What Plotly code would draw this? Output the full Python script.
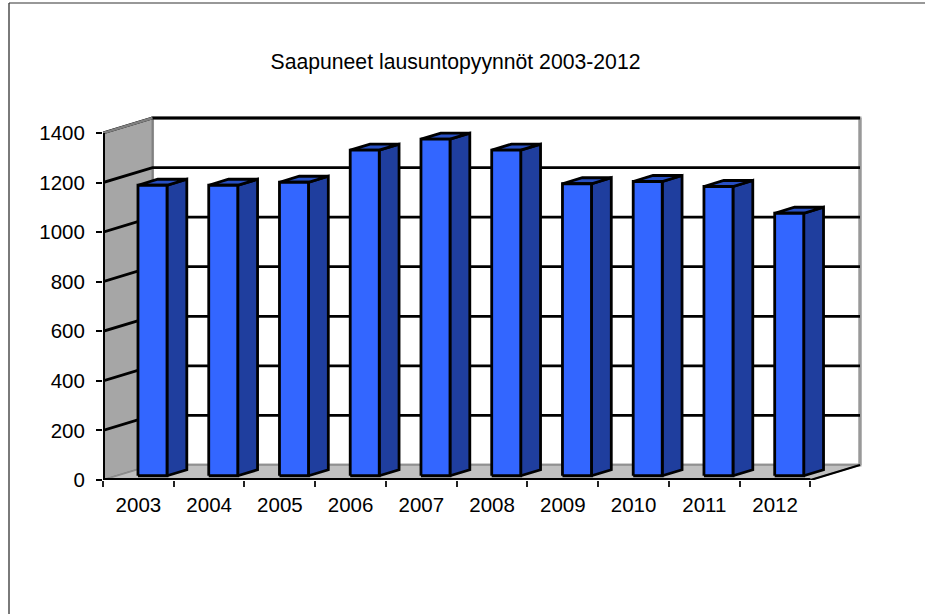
import plotly.graph_objects as go

years = ["2003", "2004", "2005", "2006", "2007", "2008", "2009", "2010", "2011", "2012"]
values = [1172, 1172, 1184, 1314, 1358, 1314, 1178, 1187, 1167, 1059]
y_ticks = [0, 200, 400, 600, 800, 1000, 1200, 1400]
title_text = "Saapuneet lausuntopyynnöt 2003-2012"

# Oblique projection of the depth axis, in axis units
PX_X = 70.7          # pixels per category
PX_Y = 347 / 1400    # pixels per value unit
DEPTH_X = 49.5 / PX_X
DEPTH_Y = 15 / PX_Y
BAR_W = 29 / PX_X
BAR_T0, BAR_T1 = 0.285, 0.685
PAD = 4              # pixels of room beyond the back wall so its edges are not clipped

n = len(years)
vmax = y_ticks[-1]
FONT = "Liberation Sans, Arial, sans-serif"
FRONT, SIDE, TOP = "#3366FF", "#1F3E9E", "#2850C4"
WALL, FLOOR = "#A6A6A6", "#C0C0C0"


def proj(x, v, t):
    return x + t * DEPTH_X, v + t * DEPTH_Y


def poly(pts, fill=None, line="black", width=2.8):
    xs = [p[0] for p in pts]
    ys = [p[1] for p in pts]
    return go.Scatter(
        x=xs, y=ys, mode="lines",
        fill="toself" if fill else None, fillcolor=fill,
        line=dict(color=line, width=width),
        hoverinfo="skip", showlegend=False, cliponaxis=False,
    )


fig = go.Figure()

# walls and floor
fig.add_trace(poly([proj(0, 0, 1), proj(n, 0, 1), proj(n, vmax, 1), proj(0, vmax, 1), proj(0, 0, 1)],
                   "white", "#A0A0A0", 3))
fig.add_trace(poly([proj(0, 0, 0), proj(0, 0, 1), proj(0, vmax, 1), proj(0, vmax, 0), proj(0, 0, 0)],
                   WALL, "#808080", 2))
fig.add_trace(poly([proj(0, 0, 0), proj(n, 0, 0), proj(n, 0, 1), proj(0, 0, 1), proj(0, 0, 0)],
                   FLOOR, "#8C8C8C", 1.5))

# right edge of the back wall
fig.add_trace(poly([proj(n, 0, 1), proj(n, vmax, 1)], None, "#999999", 3))

# gridlines (the top one also closes the back wall)
for v in y_ticks[1:]:
    fig.add_trace(poly([proj(0, v, 0), proj(0, v, 1), proj(n, v, 1)]))
fig.add_trace(poly([proj(0, vmax, 0), proj(0, vmax, 1)], None, "#808080", 2.5))

# front edges
fig.add_trace(poly([proj(0, vmax, 0), proj(0, 0, 0)], None, "black", 4))
fig.add_trace(poly([proj(n, 0, 0), proj(0, 0, 0)], None, "black", 4))
fig.add_trace(poly([proj(n, 0, 1), proj(n, 0, 0)], None, "black", 2.2))

# bars
for i, v in enumerate(values):
    c = i + 0.5
    l, r = c - BAR_W / 2, c + BAR_W / 2
    fig.add_trace(poly([proj(r, 0, BAR_T0), proj(r, 0, BAR_T1), proj(r, v, BAR_T1), proj(r, v, BAR_T0), proj(r, 0, BAR_T0)], SIDE))
    fig.add_trace(poly([proj(l, v, BAR_T0), proj(r, v, BAR_T0), proj(r, v, BAR_T1), proj(l, v, BAR_T1), proj(l, v, BAR_T0)], TOP))
    fig.add_trace(poly([proj(l, 0, BAR_T0), proj(r, 0, BAR_T0), proj(r, v, BAR_T0), proj(l, v, BAR_T0), proj(l, 0, BAR_T0)], FRONT))

L, R, T, B = 103, 65 - PAD, 118 - PAD, 134
W, H = 925, 614
fig.update_layout(
    width=W, height=H,
    margin=dict(l=L, r=R, t=T, b=B, pad=0),
    paper_bgcolor="white", plot_bgcolor="rgba(0,0,0,0)",
    font=dict(family=FONT, size=20.5, color="black"),
    showlegend=False,
    title=dict(text=title_text, x=455.5 / W, xanchor="center", y=1 - 62 / H, yanchor="middle",
               font=dict(family=FONT, size=21.2, color="black")),
    xaxis=dict(
        range=[0, n + DEPTH_X + PAD / PX_X], showgrid=False, zeroline=False, showline=False,
        tickmode="array", tickvals=[i + 0.5 for i in range(n)], ticktext=years,
        ticks="", ticklabelstandoff=10, fixedrange=True,
        minor=dict(tickmode="array", tickvals=list(range(n + 1)), ticks="outside",
                   ticklen=6, tickwidth=1.5, tickcolor="#222222", showgrid=False),
    ),
    yaxis=dict(
        range=[0, vmax + DEPTH_Y + PAD / PX_Y], showgrid=False, zeroline=False, showline=False,
        tickmode="array", tickvals=y_ticks, ticks="outside", ticklen=6, tickwidth=2,
        tickcolor="black", fixedrange=True, ticklabelstandoff=7,
    ),
    shapes=[
        dict(type="line", xref="paper", yref="paper",
             x0=(9 - L) / (W - L - R), x1=(9 - L) / (W - L - R),
             y0=(H - B - 3) / (H - T - B), y1=(H - B - H) / (H - T - B),
             line=dict(color="#7A7A7A", width=2)),
        dict(type="line", xref="paper", yref="paper",
             x0=(9 - L) / (W - L - R), x1=(W - L) / (W - L - R),
             y0=(H - B - 3) / (H - T - B), y1=(H - B - 3) / (H - T - B),
             line=dict(color="#333333", width=1.2)),
    ],
)
fig.write_html("out.html", post_script="document.body.style.margin='0';",
               config={"displayModeBar": False})
